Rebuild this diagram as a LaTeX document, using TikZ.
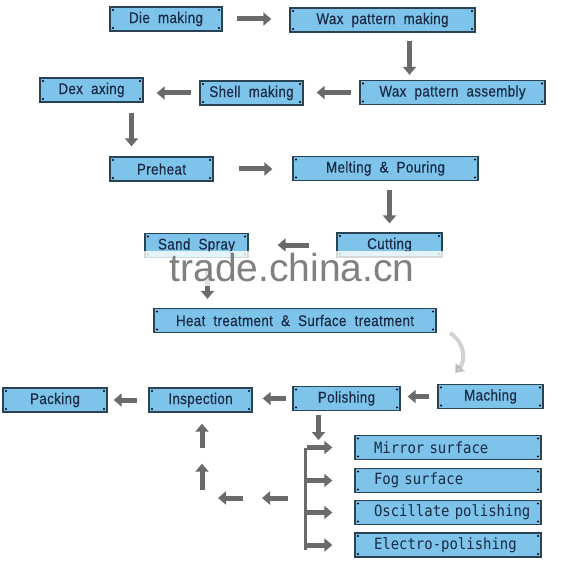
\documentclass[tikz,border=0pt]{standalone}
\usepackage{fontspec}
\setmainfont{Liberation Sans}[WordSpace=2.0, LetterSpace=2.5, FakeStretch=0.86, FakeBold=0.4]
\newfontfamily\monofam{DejaVu Sans Mono}[FakeStretch=0.9]
\newfontfamily\markfam{Liberation Sans}
\usetikzlibrary{arrows.meta}

\definecolor{BoxFill}{HTML}{7EC3EA}
\definecolor{BoxLine}{HTML}{2A4352}
\definecolor{Ink}{HTML}{1B2A44}
\definecolor{ArrowGray}{HTML}{6A6A6A}

\tikzset{
  stage/.style={draw=BoxLine, line width=1.3pt, fill=BoxFill, text=Ink,
    minimum width=#1, minimum height=24pt, inner sep=0pt,
    font=\fontsize{15.5}{17}\selectfont,
    path picture={
      \foreach \c/\dx/\dy in {north west/3/-3, north east/-3/-3, south west/3/3, south east/-3/3}
        \fill[black] ([shift={(\dx pt,\dy pt)}]path picture bounding box.\c) circle (1.1pt);
    }},
  finish/.style={stage=186pt, text width=168pt, inner xsep=9pt, align=left,
    execute at begin node=\hspace*{10pt},
    font=\monofam\fontsize{15.5}{17}\selectfont},
  blk/.style={draw=ArrowGray, line width=5pt, -{Triangle[length=8pt,width=13pt]}},
}

\begin{document}
\begin{tikzpicture}[x=1pt, y=-1pt]

 \useasboundingbox (0,0) rectangle (585,561);

 %%%%%%%%%% Casting stages %%%%%%%%%%
 \node[stage=112pt] (die) at (166,19) {Die making};
 \node[stage=185pt] (waxmk) at (382.5,20) {Wax pattern making};
 \node[stage=185pt] (waxasm) at (452.5,92.5) {Wax pattern assembly};
 \node[stage=103pt] (shell) at (251.5,93) {Shell making};
 \node[stage=103pt] (dex) at (91.5,90) {Dex axing};
 \node[stage=103pt] (preheat) at (161.5,169) {Preheat};
 \node[stage=185pt] (melt) at (385.5,168.5) {Melting \& Pouring};
 \node[stage=103pt] (sand) at (196.5,245.5) {Sand Spray};
 \node[stage=105pt] (cut) at (389.5,245) {Cutting};
 \node[stage=282pt] (heat) at (295,320.5) {Heat treatment \& Surface treatment};

 %%%%%%%%%% Finishing stages %%%%%%%%%%
 \node[stage=105pt] (mach) at (490.5,396.5) {Maching};
 \node[stage=107pt] (polish) at (346.5,398.5) {Polishing};
 \node[stage=103pt] (insp) at (200.5,400) {Inspection};
 \node[stage=104pt] (pack) at (55,400) {Packing};

 % Surface kinds
 \node[finish] (mirror) at (448,447.5) {Mirror surface};
 \node[finish] (fog) at (448,480.5) {Fog surface};
 \node[finish] (osc) at (448,512.5) {Oscillate polishing};
 \node[finish] (electro) at (448,545) {Electro-polishing};

 %%%%%%%%%% Points pour les fleches %%%%%%%%%%
 \coordinate (bartop) at (305,448);
 \coordinate (barbot) at (305,550);
 \coordinate (turn) at (202,498);
 \coordinate (bendA) at (450,333);
 \coordinate (bendB) at (455,373);

 %%%%%%%%%% Flow arrows %%%%%%%%%%
 \draw [blk, shorten <=14pt, shorten >=18pt] (die.east) -- (die.east -| waxmk.west) ;
 \draw [blk, shorten <=8pt, shorten >=5pt] ([xshift=27pt]waxmk.south) -- ([xshift=27pt]waxmk.south |- waxasm.north) ;
 \draw [blk, shorten <=8pt, shorten >=13pt] (waxasm.west) -- (waxasm.west -| shell.east) ;
 \draw [blk, shorten <=8pt, shorten >=13pt] (shell.west) -- (shell.west -| dex.east) ;
 \draw [blk, shorten <=10pt, shorten >=10pt] ([xshift=40pt]dex.south) -- ([xshift=40pt]dex.south |- preheat.north) ;
 \draw [blk, shorten <=25pt, shorten >=20pt] (preheat.east) -- (preheat.east -| melt.west) ;
 \draw [blk, shorten <=9pt, shorten >=9pt] (melt.south -| cut) -- (cut.north) ;
 \draw [blk, shorten <=27pt, shorten >=29pt] (cut.west) -- (cut.west -| sand.east) ;
 \draw [blk, shorten <=10pt, shorten >=9pt] ([xshift=11pt]sand.south) -- ([xshift=11pt]sand.south |- heat.north) ;

 % faded bend to machining
 \draw [blk, line width=4pt, opacity=0.3] (bendA) .. controls (466,343) and (465,362) .. (bendB) ;

 \draw [blk, shorten <=8pt, shorten >=7pt] (mach.west) -- (mach.west -| polish.east) ;
 \draw [blk, shorten <=6pt, shorten >=10pt] (polish.west) -- (polish.west -| insp.east) ;
 \draw [blk, shorten <=11pt, shorten >=6pt] (insp.west) -- (insp.west -| pack.east) ;

 %%%%%%%%%% Branch to surfaces %%%%%%%%%%
 \draw [blk, shorten <=4pt, shorten >=8pt] ([xshift=-28pt]polish.south) -- ([xshift=-28pt]polish.south |- bartop) ;
 \draw [draw=ArrowGray, line width=3pt] (bartop) -- (barbot) ;
 \foreach \f in {mirror,fog,osc,electro}
   \draw [blk, shorten <=2pt, shorten >=22pt] (bartop |- \f) -- (\f.west) ;

 % way back to inspection
 \draw [blk, shorten <=17pt, shorten >=60pt] (barbot |- turn) -- (turn) ;
 \draw [blk, shorten <=62pt, shorten >=16pt] (barbot |- turn) -- (turn) ;
 \draw [blk, shorten <=8pt, shorten >=51pt] (turn) -- (turn |- insp.south) ;
 \draw [blk, shorten <=50pt, shorten >=11pt] (turn) -- (turn |- insp.south) ;

 %%%%%%%%%% Watermark %%%%%%%%%%
 \fill [white, opacity=0.8] (128,251) rectangle (458,286) ;
 \node [text=gray, font=\markfam\fontsize{39}{40}\selectfont] (mark) at (292,268) {trade.china.cn};

\end{tikzpicture}
\end{document}
